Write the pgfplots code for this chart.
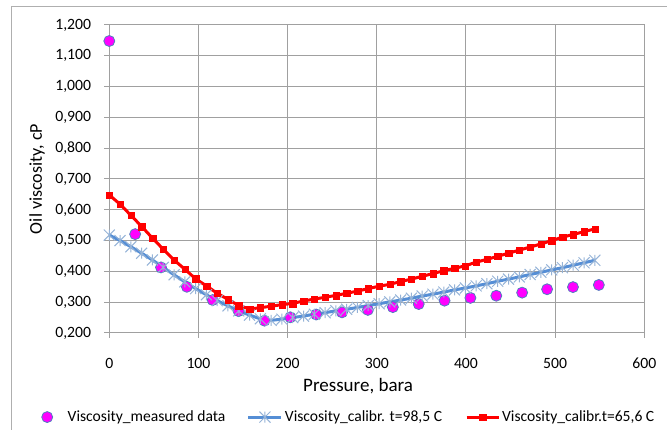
\documentclass[border=0pt]{standalone}
\usepackage{fontspec}
\setmainfont{Carlito}
\usepackage{pgfplots}
\usepackage{pgfplotstable}
\pgfplotsset{compat=1.18}
\definecolor{gridgray}{RGB}{160,160,160}
\definecolor{framegray}{RGB}{175,175,175}
\definecolor{mag}{RGB}{255,0,255}
\definecolor{medge}{RGB}{79,129,189}
\definecolor{bline}{RGB}{85,142,213}
\definecolor{bmark}{RGB}{149,179,215}
\definecolor{rline}{RGB}{255,0,0}
\pgfdeclareplotmark{xstar}{%
  \pgfpathmoveto{\pgfqpoint{-\pgfplotmarksize}{-\pgfplotmarksize}}%
  \pgfpathlineto{\pgfqpoint{\pgfplotmarksize}{\pgfplotmarksize}}%
  \pgfpathmoveto{\pgfqpoint{-\pgfplotmarksize}{\pgfplotmarksize}}%
  \pgfpathlineto{\pgfqpoint{\pgfplotmarksize}{-\pgfplotmarksize}}%
  \pgfpathmoveto{\pgfqpoint{0pt}{-\pgfplotmarksize}}%
  \pgfpathlineto{\pgfqpoint{0pt}{\pgfplotmarksize}}%
  \pgfusepathqstroke}
\tikzset{
  measstyle/.style={only marks, mark=*, mark size=5.5pt, mark options={fill=mag, draw=medge, line width=0.8pt}},
  bluestyle/.style={bline, line width=3pt, mark=xstar, mark size=5.5pt, mark options={draw=bmark, line width=1pt}},
  redstyle/.style={rline, line width=3pt, mark=square*, mark size=3.2pt, mark options={fill=rline, draw=rline, line width=0.2pt}},
}

\pgfplotstableread{
p visc
0 1.148
29 0.521
58 0.413
87 0.350
116 0.307
145 0.271
174 0.240
203 0.251
232 0.260
261 0.267
290 0.275
318 0.284
347 0.294
376 0.305
405 0.314
434 0.321
463 0.331
491 0.342
520 0.349
549 0.356
}\measured

\pgfplotstableread{
p blue red
0.0 0.518 0.648
12.1 0.500 0.618
24.2 0.480 0.582
36.3 0.459 0.546
48.4 0.437 0.508
60.5 0.413 0.472
72.6 0.389 0.437
84.7 0.366 0.407
96.8 0.344 0.376
108.9 0.324 0.353
121.0 0.305 0.329
133.1 0.288 0.309
145.2 0.272 0.289
157.3 0.258 0.278
169.4 0.246 0.282
181.5 0.241 0.287
193.6 0.245 0.292
205.7 0.250 0.296
217.8 0.255 0.304
229.9 0.261 0.310
242.0 0.266 0.316
254.1 0.272 0.322
266.2 0.277 0.329
278.3 0.283 0.336
290.4 0.289 0.344
302.5 0.295 0.352
314.6 0.301 0.358
326.7 0.307 0.367
338.8 0.313 0.375
350.9 0.320 0.384
363.0 0.326 0.393
375.1 0.333 0.402
387.2 0.340 0.410
399.3 0.346 0.418
411.4 0.353 0.430
423.5 0.360 0.439
435.6 0.368 0.449
447.7 0.375 0.459
459.8 0.382 0.469
471.9 0.390 0.479
484.0 0.397 0.489
496.1 0.405 0.500
508.2 0.412 0.511
520.3 0.420 0.520
532.4 0.428 0.529
544.5 0.436 0.538
}\calib

\begin{document}
\begin{tikzpicture}
\path[use as bounding box] (-109.3pt,-97pt) rectangle (557.7pt,333pt);
\draw[framegray, line width=0.8pt] (-98.3pt,-97pt) -- (-98.3pt,327pt) -- (557.7pt,327pt);
\begin{axis}[
  at={(0pt,0pt)}, anchor=south west,
  scale only axis, width=535pt, height=308pt,
  xmin=0, xmax=600, ymin=0.2, ymax=1.2,
  xtick={0,100,200,300,400,500,600},
  ytick={0.2,0.3,0.4,0.5,0.6,0.7,0.8,0.9,1.0,1.1,1.2},
  xtick pos=bottom, ytick pos=left,
  tick align=outside, major tick length=5pt,
  grid=major,
  major grid style={gridgray, line width=1pt},
  axis line style={gridgray, line width=1pt},
  tick style={gridgray, line width=1pt},
  /pgf/number format/assume math mode=true,
  yticklabel style={/pgf/number format/.cd, fixed, fixed zerofill, precision=3, use comma, /tikz/.cd,
    font=\fontsize{15.7}{18}\selectfont, anchor=east, inner sep=0pt, xshift=-13pt},
  xticklabel style={font=\fontsize{15.7}{18}\selectfont, anchor=north, inner sep=0pt, yshift=-20pt},
  xlabel={Pressure, bara},
  ylabel={Oil viscosity, cP},
  xlabel style={font=\fontsize{19}{22}\selectfont, at={(axis description cs:0.465,-0.172)}, anchor=center, inner sep=0pt},
  ylabel style={font=\fontsize{18}{21}\selectfont, at={(axis description cs:-0.1351,0.5)}, anchor=center, inner sep=0pt},
  clip=false,
  legend columns=3,
  legend style={at={(axis description cs:-0.1267,-0.273)}, anchor=west, draw=none, fill=none,
    inner sep=0pt, font=\fontsize{15.6}{18}\selectfont, nodes={inner sep=0pt}},
]
\addplot[measstyle,
  legend image code/.code={\path[draw=none, fill=none] (0pt,-5.5pt) rectangle (26pt,5.5pt); \draw[measstyle] plot coordinates {(5.5pt,0pt)};}]
  table[x=p, y=visc] {\measured};
\addlegendentry{Viscosity\_measured data}
\addplot[bluestyle,
  legend image code/.code={\path[draw=none, fill=none] (-23pt,-5.5pt) rectangle (36.5pt,5.5pt); \draw[bluestyle, mark repeat=2, mark phase=2] plot coordinates {(0pt,0pt)(16.5pt,0pt)(33pt,0pt)};}]
  table[x=p, y=blue] {\calib};
\addlegendentry{Viscosity\_calibr. t=98,5 C}
\addplot[redstyle,
  legend image code/.code={\path[draw=none, fill=none] (-24.5pt,-5.5pt) rectangle (35.5pt,5.5pt); \draw[redstyle, mark repeat=2, mark phase=2] plot coordinates {(0pt,0pt)(16pt,0pt)(32pt,0pt)};}]
  table[x=p, y=red] {\calib};
\addlegendentry{Viscosity\_calibr.t=65,6 C}
\end{axis}
\end{tikzpicture}
\end{document}
